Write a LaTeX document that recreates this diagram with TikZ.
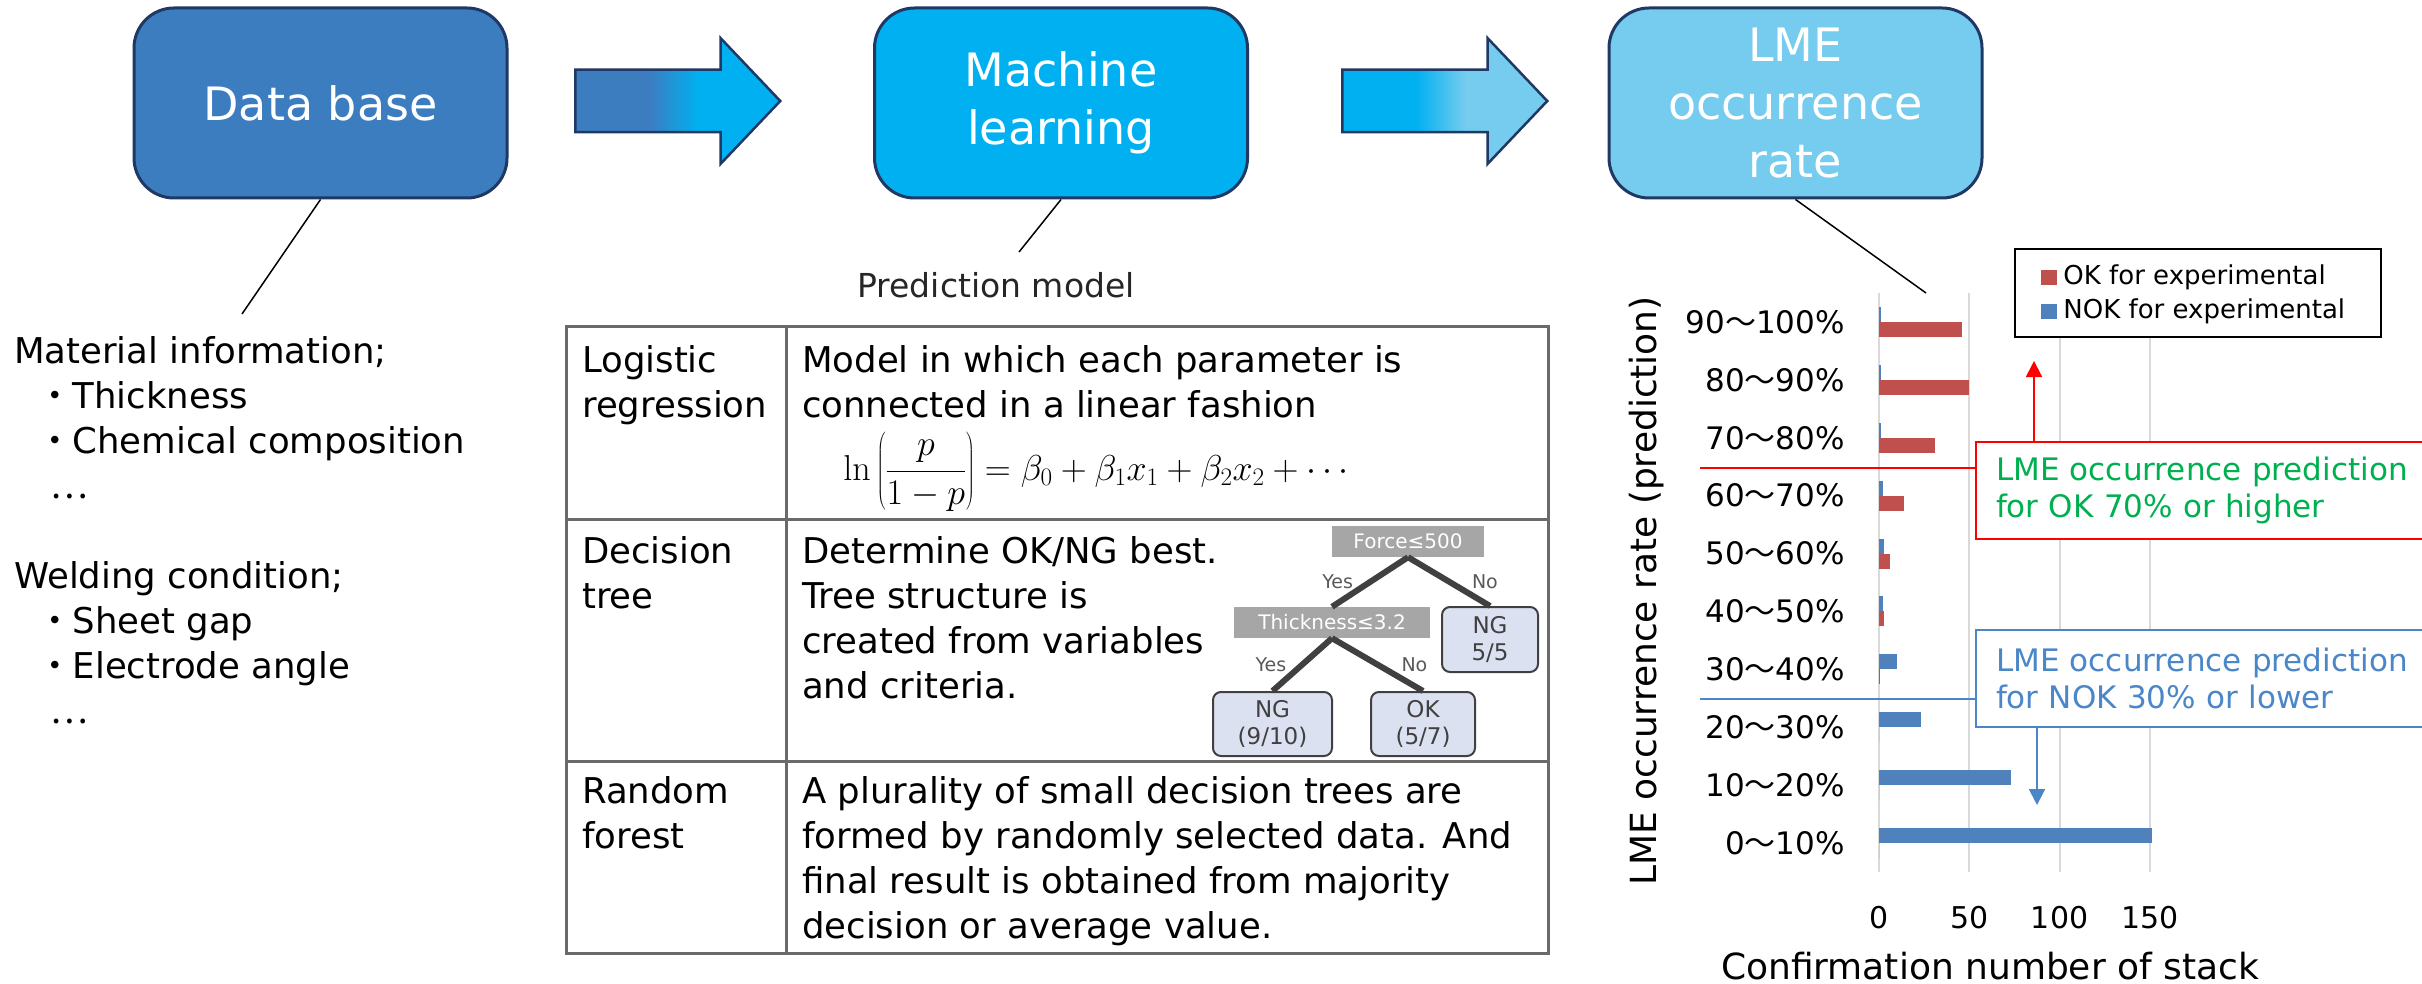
\RequirePackage{fix-cm}
\documentclass[tikz,border=0pt]{standalone}
\usepackage[no-math]{fontspec}
\setmainfont{DejaVu Sans}
\newfontfamily\cjk{Noto Sans CJK JP}
\usetikzlibrary{shapes.arrows,arrows.meta,positioning}
\definecolor{dbblue}{HTML}{3C7DC0}
\definecolor{mlblue}{HTML}{00B0F0}
\definecolor{lmeblue}{HTML}{75CCEE}
\definecolor{boxline}{HTML}{1F3864}
\definecolor{okred}{HTML}{C0504D}
\definecolor{nokblue}{HTML}{4F81BD}
\definecolor{gridgray}{HTML}{D9D9D9}
\definecolor{okgreen}{HTML}{00B050}
\definecolor{callblue}{HTML}{4A86C8}
\definecolor{leafblue}{HTML}{DCE1F2}
\definecolor{treegray}{HTML}{404040}
\definecolor{condgray}{HTML}{A6A6A6}
\definecolor{tablegray}{HTML}{6A6A6A}
\pgfdeclarehorizontalshading{shadeA}{100bp}{color(0bp)=(dbblue); color(43bp)=(dbblue); color(55bp)=(mlblue); color(100bp)=(mlblue)}
\pgfdeclarehorizontalshading{shadeB}{100bp}{color(0bp)=(mlblue); color(43bp)=(mlblue); color(55bp)=(lmeblue); color(100bp)=(lmeblue)}
\begin{document}
\begin{tikzpicture}[x=1pt,y=-1pt,
  stagebox/.style={draw=boxline, line width=3pt, rounded corners=40pt, minimum width=373pt, minimum height=190pt, inner sep=0pt, align=center, text=white, font=\fontsize{46}{58}\selectfont},
  blockarrow/.style={single arrow, draw=boxline, line width=2.5pt, minimum height=205pt, minimum width=123pt, inner xsep=0pt, inner ysep=30pt, text height=0pt, text depth=0pt, single arrow head extend=31.5pt, single arrow tip angle=93, anchor=tail},
  leader/.style={line width=1.5pt},
  cell/.style={anchor=north west, align=left, inner sep=0pt, font=\fontsize{35.5}{45}\selectfont},
  tablerule/.style={draw=tablegray, line width=3pt},
  condbox/.style={fill=condgray, text=white, minimum height=31pt, inner sep=0pt, font=\fontsize{20}{24}\selectfont},
  leafbox/.style={draw=treegray, fill=leafblue, line width=2pt, rounded corners=8pt, text=treegray, align=center, minimum height=64pt, inner sep=0pt, font=\fontsize{23}{27}\selectfont},
  treeedge/.style={draw=treegray, line width=6pt},
  edgelbl/.style={text=black!65, inner sep=0pt, font=\fontsize{19}{22}\selectfont},
  gridline/.style={draw=gridgray, line width=2pt},
  catlbl/.style={anchor=east, inner sep=0pt, font=\fontsize{31}{37}\selectfont},
  ticklbl/.style={inner sep=0pt, font=\fontsize{30}{36}\selectfont},
  legmark/.style={minimum width=16pt, minimum height=15pt, inner sep=0pt},
  legtext/.style={inner sep=0pt, font=\fontsize{26}{31}\selectfont},
  callout/.style={anchor=north west, line width=2pt, fill=white, text width=430pt, inner xsep=20pt, inner ysep=0pt, minimum height=97pt, align=left, font=\fontsize{31}{37}\selectfont}]
\useasboundingbox (0,0) rectangle (2422,984);
% flow
\node[stagebox, fill=dbblue] (db) at (320.5,103) {Data base};
\node[stagebox, fill=mlblue] (ml) at (1061,103) {Machine\\learning};
\node[stagebox, fill=lmeblue] (lme) at (1795.5,103) {LME\\occurrence\\rate};
\node[blockarrow, shading=shadeA] (arrA) at (574,101) {};
\node[blockarrow, shading=shadeB] (arrB) at (1341,101) {};
\coordinate (dbend) at (242,314);
\coordinate (mlend) at (1019,252);
\coordinate (lmeend) at (1926,293);
\draw[leader] (db.south) -- (dbend);
\draw[leader] (ml.south) -- (mlend);
\draw[leader] (lme.south) -- (lmeend);
% input data
\node[anchor=north west, align=left, inner sep=0pt, font=\fontsize{35.5}{45}\selectfont] (info) at (14,336) {Material information;\\
\hspace*{23pt}{\cjk ・}Thickness\\
\hspace*{23pt}{\cjk ・}Chemical composition\\
\hspace*{36pt}{\cjk …}\\[45pt]
Welding condition;\\
\hspace*{23pt}{\cjk ・}Sheet gap\\
\hspace*{23pt}{\cjk ・}Electrode angle\\
\hspace*{36pt}{\cjk …}};
% prediction model table
\node[anchor=base, inner sep=0pt, text=black!85, font=\fontsize{33}{40}\selectfont] (predlbl) at (996,298) {Prediction model};
\draw[tablerule] (566,326) rectangle (1548,953);
\draw[tablerule] (786,326) -- (786,953);
\draw[tablerule] (566,519) -- (1548,519);
\draw[tablerule] (566,761) -- (1548,761);
\node[cell] (logi) at (582,345) {Logistic\\regression};
\node[cell] (logidesc) at (802,345) {Model in which each parameter is\\connected in a linear fashion};
\node[inner sep=0pt, font=\fontsize{36}{43}\selectfont] (logit) at (1096,472) {$\displaystyle \ln\left(\frac{p}{1-p}\right)=\beta_0+\beta_1x_1+\beta_2x_2+\cdots$};
\node[cell] (dtree) at (582,536) {Decision\\tree};
\node[cell] (dtreedesc) at (802,536) {Determine OK/NG best.\\Tree structure is\\created from variables\\and criteria.};
\node[cell] (rforest) at (582,776) {Random\\forest};
\node[cell] (rforestdesc) at (802,776) {A plurality of small decision trees are\\formed by randomly selected data. And\\final result is obtained from majority\\decision or average value.};
% small tree
\node[condbox, minimum width=152pt] (force) at (1408,541.5) {Force≤500};
\node[condbox, minimum width=196pt] (thick) at (1332,622.5) {Thickness≤3.2};
\node[leafbox, minimum width=96pt, minimum height=65pt] (leafA) at (1490,639.5) {NG\\5/5};
\node[leafbox, minimum width=119pt] (leafB) at (1272.5,724) {NG\\(9/10)};
\node[leafbox, minimum width=104pt] (leafC) at (1423,724) {OK\\(5/7)};
\draw[treeedge] (force.south) -- (thick.north) node[edgelbl, midway, left=14pt] (yesA) {Yes};
\draw[treeedge] (force.south) -- (leafA.north) node[edgelbl, midway, right=20pt] (noA) {No};
\draw[treeedge] (thick.south) -- (leafB.north) node[edgelbl, midway, left=13pt] (yesB) {Yes};
\draw[treeedge] (thick.south) -- (leafC.north) node[edgelbl, midway, right=21pt] (noB) {No};
% chart
\foreach \v in {0,50,100,150}{
  \draw[gridline] ({1879+1.806*\v},293) -- ({1879+1.806*\v},872);
  \node[ticklbl] (tick\v) at ({1879+1.806*\v},918) {\v};
}
\foreach \lo/\hi/\ok/\nok [count=\i from 0] in {90/100/46/1,80/90/50/1,70/80/31/1,60/70/14/2,50/60/6/3,40/50/3/2,30/40/0.5/10,20/30/0/23,10/20/0/73,0/10/0/151}{
  \pgfmathsetmacro\yc{293+57.9*(\i+0.5)}
  \fill[nokblue] (1879,\yc-15) rectangle ({1879+1.806*\nok},\yc);
  \fill[okred] (1879,\yc) rectangle ({1879+1.806*\ok},\yc+15);
  \node[catlbl] (cat\i) at (1845,\yc) {\lo{\cjk ～}\hi\%};
}
\node[rotate=90, inner sep=0pt, font=\fontsize{36}{43}\selectfont] (ylbl) at (1647,591) {LME occurrence rate (prediction)};
\node[inner sep=0pt, font=\fontsize{36}{43}\selectfont] (xlbl) at (1990,966) {Confirmation number of stack};
\node[draw, line width=2pt, fill=white, minimum width=366pt, minimum height=88pt, inner sep=0pt] (legend) at (2198,293) {};
\node[legmark, fill=okred] (mkOK) at (2049,277.5) {};
\node[legtext, right=6pt of mkOK] (legOK) {OK for experimental};
\node[legmark, fill=nokblue] (mkNOK) at (2049,311.5) {};
\node[legtext, right=6pt of mkNOK] (legNOK) {NOK for experimental};
% callouts
\node[callout, draw=red, text=okgreen] (okcall) at (1975,441) {LME occurrence prediction\\for OK 70\% or higher};
\node[callout, draw=callblue, text=callblue] (nokcall) at (1975,629) {LME occurrence prediction\\for NOK 30\% or lower};
\coordinate (okcut) at (1700,468);
\coordinate (nokcut) at (1700,699);
\coordinate (okup) at (2034,361);
\coordinate (nokdown) at (2037,805);
\draw[red, line width=2pt] (okcut) -- (okcut -| okcall.west);
\draw[callblue, line width=2pt] (nokcut) -- (nokcut -| nokcall.west);
\draw[red, line width=2pt, -{Triangle[width=16pt,length=16pt]}] (okup |- okcall.north) -- (okup);
\draw[callblue, line width=2pt, -{Triangle[width=16pt,length=16pt]}] (nokdown |- nokcall.south) -- (nokdown);
\end{tikzpicture}
\end{document}
